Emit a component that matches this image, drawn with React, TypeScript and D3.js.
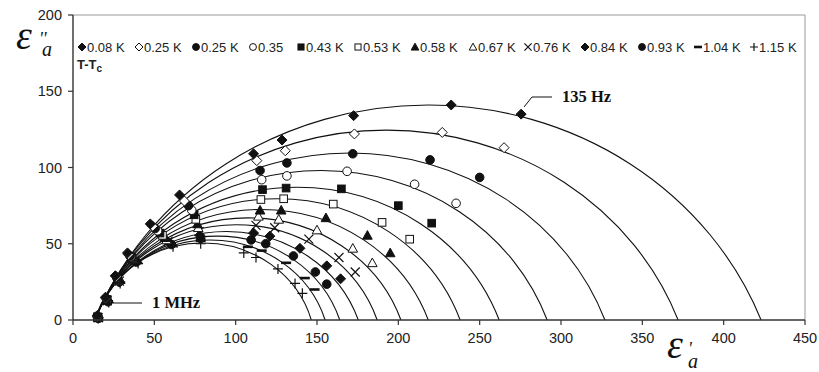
import * as d3 from 'd3';

// legend labels, one per temperature (T - Tc)
const seriesLabels = [
  '0.08 K', '0.25 K', '0.25 K', '0.35', '0.43 K', '0.53 K', '0.58 K',
  '0.67 K', '0.76 K', '0.84 K', '0.93 K', '1.04 K', '1.15 K',
];
const seriesSymbols = [
  'diamond', 'diamondOpen', 'circle', 'circleOpen', 'square', 'squareOpen',
  'triangle', 'triangleOpen', 'cross', 'diamond', 'circle', 'dash', 'plus',
];

// fitted arcs: high-frequency limit, static limit and arc height
const arcHigh = [13.5, 13.5, 13.5, 13.5, 13.5, 13.5, 13.5, 13.5, 13.5, 13.5, 13.5, 13.5, 13.5];
const arcStatic = [423, 372, 327, 291.5, 262, 238, 218.4, 201.6, 187, 175.4, 164, 155, 146.5];
const arcPeak = [141, 124.5, 109.5, 98, 87, 79.5, 72.5, 67, 62.5, 58, 55, 52.5, 50.5];

// measured points (eps', eps''), from 135 Hz to 1 MHz
const s008 = [[275.5, 135], [232.5, 141], [172.5, 134], [128.5, 118], [111, 109], [65.5, 82], [47.5, 63], [33.5, 44], [26, 29], [20, 15], [15, 3]];
const s025a = [[265, 113], [227, 123], [173, 122], [130.5, 111], [113, 104.5], [68.5, 78], [49, 61.5], [34, 43], [26.5, 28.5], [20, 14.5], [15, 2.5]];
const s025b = [[250, 93.5], [219.5, 105], [172, 109], [131.5, 103], [115, 98], [71, 75], [50.5, 60], [35, 42], [27, 28], [20.5, 14], [15, 2.5]];
const s035 = [[235.5, 76.5], [210, 89], [168.5, 97.5], [131.5, 94.5], [116, 92], [73, 72], [52, 58.5], [35.5, 41.5], [27, 27.5], [20.5, 14], [15, 2]];
const s043 = [[220.5, 63.5], [200, 75], [165, 86], [131, 86.5], [116.5, 85.5], [74.5, 69], [53.5, 57], [36, 41], [27.5, 27], [20.5, 13.5], [15, 2]];
const s053 = [[207, 53], [190, 64], [160, 76], [129.5, 79.5], [115.5, 79], [75.5, 66], [55, 55.5], [36.5, 40.5], [27.5, 26.5], [21, 13.5], [15, 2]];
const s058 = [[195, 44], [181, 55.5], [155.5, 67], [128, 72], [115, 72], [76.5, 63], [56.5, 54], [37, 40], [28, 26.5], [21, 13], [15.5, 2]];
const s067 = [[184, 37.5], [172, 47], [150, 59], [126.5, 66], [114, 68], [77, 60.5], [57.5, 52.5], [37.5, 39.5], [28, 26], [21, 13], [15.5, 1.5]];
const s076 = [[173.5, 31.5], [163.5, 41], [145, 53], [124, 60.5], [112.5, 62], [77.5, 58], [58.5, 51.5], [38, 39], [28.5, 25.5], [21, 12.5], [15.5, 1.5]];
const s084 = [[164.5, 27], [156, 35.5], [139.5, 47], [121, 55], [111, 57], [78, 55.5], [59.5, 50.5], [38.5, 38.5], [28.5, 25], [21.5, 12.5], [15.5, 1.5]];
const s093 = [[156, 23.5], [149, 31.5], [135.5, 42], [118.5, 50], [109.5, 52.5], [78.5, 53.5], [60.5, 49.5], [39, 38], [28.5, 25], [21.5, 12], [15.5, 1]];
const s104 = [[148.5, 20], [142.5, 27.5], [131, 37.5], [116, 45.5], [107.5, 48], [78.5, 52], [61, 49], [39.5, 37.5], [29, 24.5], [21.5, 12], [15.5, 1]];
const s115 = [[141, 17.5], [136.5, 24], [126, 33.5], [112.5, 41], [105, 44], [78.5, 50], [61.5, 48], [40, 37], [29, 24], [22, 11.5], [15.5, 1]];
const seriesPoints = [s008, s025a, s025b, s035, s043, s053, s058, s067, s076, s084, s093, s104, s115];

const xTicks = [0, 50, 100, 150, 200, 250, 300, 350, 400, 450];
const yTicks = [0, 50, 100, 150, 200];

const INK = '#111';

function Marker({ type, cx, cy, s = 1 }) {
  const k = s;
  switch (type) {
    case 'diamond':
    case 'diamondOpen': {
      const r = 5 * k;
      return (
        <path
          d={`M${cx},${cy - r}L${cx + r},${cy}L${cx},${cy + r}L${cx - r},${cy}Z`}
          fill={type === 'diamond' ? INK : '#fff'}
          stroke={INK}
          strokeWidth={1}
        />
      );
    }
    case 'circle':
    case 'circleOpen':
      return (
        <circle cx={cx} cy={cy} r={4.3 * k} fill={type === 'circle' ? INK : '#fff'} stroke={INK} strokeWidth={1} />
      );
    case 'square':
    case 'squareOpen': {
      const h = 3.8 * k;
      return (
        <rect x={cx - h} y={cy - h} width={2 * h} height={2 * h} fill={type === 'square' ? INK : '#fff'} stroke={INK} strokeWidth={1} />
      );
    }
    case 'triangle':
    case 'triangleOpen': {
      const h = 4.8 * k;
      return (
        <path
          d={`M${cx},${cy - h}L${cx + h},${cy + h * 0.8}L${cx - h},${cy + h * 0.8}Z`}
          fill={type === 'triangle' ? INK : '#fff'}
          stroke={INK}
          strokeWidth={1}
        />
      );
    }
    case 'cross': {
      const h = 4.5 * k;
      return <path d={`M${cx - h},${cy - h}L${cx + h},${cy + h}M${cx - h},${cy + h}L${cx + h},${cy - h}`} stroke={INK} strokeWidth={1.2} />;
    }
    case 'plus': {
      const h = 5 * k;
      return <path d={`M${cx - h},${cy}L${cx + h},${cy}M${cx},${cy - h}L${cx},${cy + h}`} stroke={INK} strokeWidth={1.2} />;
    }
    case 'dash':
      return <rect x={cx - 5 * k} y={cy - 1.3} width={10 * k} height={2.6} fill={INK} />;
    default:
      return null;
  }
}

// legend marker x positions
const legendX = [82, 139, 196, 253, 301, 358, 415, 473, 528, 585, 642, 698, 754];

export default function App() {
  const width = 819;
  const height = 372;
  const x = d3.scaleLinear().domain([0, 450]).range([73, 805]);
  const y = d3.scaleLinear().domain([0, 200]).range([320, 15]);

  // depressed semicircle: circle through (a,0) and (b,0) with given height
  const arcPath = (a, b, h) => {
    const d = (b - a) / 2;
    const c = (d * d - h * h) / (2 * h);
    const R = c + h;
    const rx = x(R) - x(0);
    const ry = y(0) - y(R);
    return `M${x(a)},${y(0)}A${rx},${ry} 0 0 1 ${x(b)},${y(0)}`;
  };

  const sans = "'Liberation Sans', Arial, sans-serif";
  const serif = "'Liberation Serif', 'Times New Roman', serif";

  return (
    <svg width={width} height={height} style={{ position: 'absolute', left: 0, top: 0, background: '#fff' }}>
      {/* frame */}
      <line x1={x(0)} x2={x(450)} y1={y(200)} y2={y(200)} stroke="#999" strokeWidth={1} />
      <line x1={x(450)} x2={x(450)} y1={y(200)} y2={y(0)} stroke="#999" strokeWidth={1} />

      {/* arcs */}
      {arcStatic.map((b, i) => (
        <path key={'arc' + i} d={arcPath(arcHigh[i], b, arcPeak[i])} fill="none" stroke={INK} strokeWidth={1.1} />
      ))}

      {/* points, smallest arcs drawn first */}
      {seriesPoints
        .map((pts, i) => ({ pts, i }))
        .reverse()
        .map(({ pts, i }) => (
          <g key={'s' + i}>
            {pts.map((p, j) => (
              <Marker key={j} type={seriesSymbols[i]} cx={x(p[0])} cy={y(p[1])} />
            ))}
          </g>
        ))}

      {/* axes */}
      <line x1={x(0)} x2={x(0)} y1={y(0)} y2={y(200)} stroke="#333" strokeWidth={1.4} />
      <line x1={x(0)} x2={x(450)} y1={y(0)} y2={y(0)} stroke="#333" strokeWidth={1.4} />
      {yTicks.map((t) => (
        <g key={'yt' + t}>
          <line x1={x(0) - 5} x2={x(0)} y1={y(t)} y2={y(t)} stroke="#333" strokeWidth={1.2} />
          <text x={62} y={y(t) + 5} textAnchor="end" fontFamily={sans} fontSize={14.5} fill="#222">
            {t}
          </text>
        </g>
      ))}
      {xTicks.map((t) => (
        <g key={'xt' + t}>
          <line x1={x(t)} x2={x(t)} y1={y(0)} y2={y(0) + 5} stroke="#333" strokeWidth={1.2} />
          <text x={x(t)} y={343} textAnchor="middle" fontFamily={sans} fontSize={14.5} fill="#222">
            {t}
          </text>
        </g>
      ))}

      {/* axis titles */}
      <text fontFamily={serif} fontStyle="italic" fill={INK}>
        <tspan x={16} y={49} fontSize={40}>ε</tspan>
        <tspan x={39} y={45} fontSize={18}>''</tspan>
        <tspan x={42} y={56} fontSize={20}>a</tspan>
      </text>
      <text fontFamily={serif} fontStyle="italic" fill={INK}>
        <tspan x={667} y={358} fontSize={40}>ε</tspan>
        <tspan x={688} y={355} fontSize={18}>'</tspan>
        <tspan x={688} y={368} fontSize={20}>a</tspan>
      </text>

      {/* legend */}
      {seriesLabels.map((lab, i) => (
        <g key={'lg' + i}>
          <Marker type={seriesSymbols[i]} cx={legendX[i]} cy={47} s={0.8} />
          <text x={legendX[i] + 5} y={52} fontFamily={sans} fontSize={13} fill="#222">
            {lab}
          </text>
        </g>
      ))}
      <text x={77} y={69} fontFamily={sans} fontSize={13} fontWeight="bold" fill="#222">
        T-T<tspan fontSize={10} dy={3}>c</tspan>
      </text>

      {/* annotations */}
      <path d="M524,107L532,97L552,97" fill="none" stroke={INK} strokeWidth={1} />
      <text x={562} y={102} fontFamily={serif} fontWeight="bold" fontSize={16.5} fill={INK}>135 Hz</text>
      <line x1={113} x2={142} y1={303} y2={303} stroke={INK} strokeWidth={1} />
      <text x={152} y={308} fontFamily={serif} fontWeight="bold" fontSize={16.5} fill={INK}>1 MHz</text>
    </svg>
  );
}
